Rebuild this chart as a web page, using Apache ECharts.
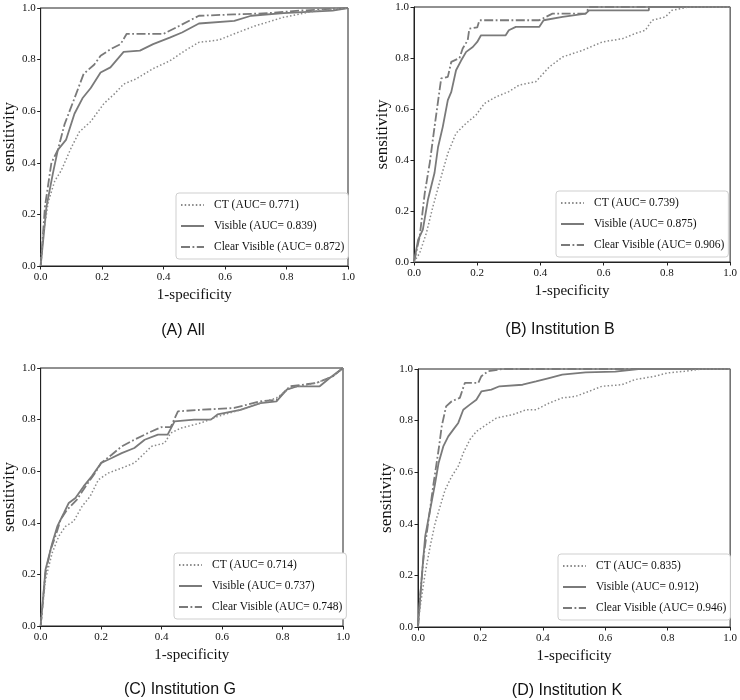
<!DOCTYPE html>
<html><head><meta charset="utf-8">
<script src="https://cdn.jsdelivr.net/npm/echarts@6/dist/echarts.min.js"></script>
<style>html,body{margin:0;padding:0;background:#fff}#c{width:740px;height:700px}</style>
</head><body><div id="c"></div>
<script>
// ---- data ----
const panelCaptions = ['(A) All', '(B) Institution B', '(C) Institution G', '(D) Institution K'];
const seriesLabels = ['CT', 'Visible', 'Clear Visible'];
const aucA = ['0.771', '0.839', '0.872'];
const aucB = ['0.739', '0.875', '0.906'];
const aucC = ['0.714', '0.737', '0.748'];
const aucD = ['0.835', '0.912', '0.946'];
const xAxisTitle = '1-specificity';
const yAxisTitle = 'sensitivity';

const A_CT = [[0,0],[0.009,0.125],[0.025,0.25],[0.046,0.33],[0.067,0.37],[0.1,0.46],[0.126,0.52],[0.163,0.56],[0.206,0.63],[0.24,0.667],[0.27,0.705],[0.31,0.725],[0.366,0.765],[0.42,0.795],[0.47,0.835],[0.515,0.867],[0.58,0.876],[0.63,0.9],[0.696,0.93],[0.79,0.964],[0.845,0.977],[0.9,0.99],[1,1]];
const A_VIS = [[0,0],[0.019,0.23],[0.04,0.36],[0.056,0.45],[0.083,0.49],[0.11,0.59],[0.136,0.65],[0.163,0.69],[0.195,0.75],[0.227,0.77],[0.27,0.83],[0.323,0.835],[0.366,0.86],[0.42,0.885],[0.46,0.905],[0.515,0.94],[0.63,0.95],[0.685,0.97],[0.79,0.98],[0.9,0.987],[0.95,0.99],[1,1]];
const A_CLEAR = [[0,0],[0.014,0.23],[0.035,0.40],[0.056,0.45],[0.078,0.55],[0.11,0.65],[0.14,0.745],[0.174,0.78],[0.195,0.815],[0.227,0.84],[0.26,0.86],[0.28,0.90],[0.40,0.90],[0.45,0.93],[0.515,0.97],[0.63,0.975],[0.74,0.98],[0.845,0.99],[1,1]];

const B_CT = [[0,0],[0.018,0.035],[0.039,0.113],[0.06,0.218],[0.086,0.335],[0.107,0.426],[0.133,0.505],[0.165,0.544],[0.196,0.576],[0.223,0.622],[0.26,0.648],[0.30,0.668],[0.333,0.694],[0.385,0.707],[0.428,0.765],[0.47,0.804],[0.533,0.83],[0.596,0.863],[0.66,0.876],[0.70,0.896],[0.732,0.909],[0.753,0.948],[0.795,0.961],[0.816,0.987],[0.869,1],[1,1]];
const B_VIS = [[0,0],[0.013,0.087],[0.028,0.127],[0.044,0.244],[0.065,0.35],[0.076,0.45],[0.091,0.53],[0.107,0.635],[0.118,0.667],[0.133,0.752],[0.149,0.79],[0.165,0.824],[0.186,0.843],[0.2,0.863],[0.212,0.889],[0.29,0.889],[0.30,0.909],[0.322,0.922],[0.396,0.922],[0.41,0.948],[0.47,0.961],[0.543,0.974],[0.554,0.987],[0.743,0.987],[0.743,1],[1,1]];
const B_CLEAR = [[0,0],[0.018,0.1],[0.034,0.27],[0.05,0.39],[0.065,0.53],[0.086,0.72],[0.107,0.726],[0.118,0.785],[0.144,0.80],[0.154,0.837],[0.17,0.87],[0.175,0.915],[0.2,0.92],[0.207,0.948],[0.396,0.948],[0.438,0.974],[0.543,0.974],[0.554,1],[1,1]];

const C_CT = [[0,0],[0.016,0.18],[0.038,0.283],[0.06,0.348],[0.082,0.386],[0.109,0.406],[0.137,0.464],[0.164,0.503],[0.191,0.567],[0.224,0.593],[0.268,0.612],[0.31,0.632],[0.344,0.67],[0.366,0.696],[0.41,0.709],[0.43,0.748],[0.464,0.767],[0.53,0.787],[0.585,0.812],[0.661,0.838],[0.727,0.864],[0.78,0.884],[0.825,0.922],[0.912,0.942],[0.967,0.968],[1,1]];
const C_VIS = [[0,0],[0.016,0.218],[0.038,0.32],[0.055,0.386],[0.077,0.438],[0.093,0.477],[0.115,0.496],[0.142,0.541],[0.169,0.58],[0.2,0.632],[0.235,0.651],[0.268,0.67],[0.31,0.69],[0.344,0.722],[0.388,0.742],[0.42,0.742],[0.443,0.793],[0.508,0.80],[0.563,0.80],[0.585,0.82],[0.661,0.838],[0.727,0.864],[0.78,0.871],[0.814,0.916],[0.847,0.929],[0.923,0.929],[0.956,0.961],[1,1]];
const C_CLEAR = [[0,0],[0.016,0.205],[0.033,0.296],[0.049,0.348],[0.066,0.412],[0.087,0.45],[0.12,0.49],[0.148,0.54],[0.18,0.593],[0.2,0.632],[0.235,0.664],[0.268,0.696],[0.31,0.722],[0.355,0.748],[0.40,0.771],[0.43,0.771],[0.454,0.832],[0.53,0.838],[0.64,0.845],[0.727,0.871],[0.78,0.877],[0.825,0.929],[0.912,0.942],[0.967,0.968],[1,1]];

const D_CT = [[0,0],[0.007,0.08],[0.023,0.209],[0.039,0.313],[0.055,0.403],[0.071,0.468],[0.087,0.532],[0.108,0.584],[0.129,0.623],[0.145,0.674],[0.166,0.726],[0.187,0.758],[0.219,0.784],[0.251,0.81],[0.304,0.823],[0.346,0.842],[0.378,0.842],[0.42,0.868],[0.462,0.888],[0.505,0.894],[0.547,0.913],[0.589,0.933],[0.653,0.939],[0.695,0.959],[0.759,0.972],[0.80,0.985],[0.854,0.991],[0.907,1],[1,1]];
const D_VIS = [[0,0],[0.013,0.209],[0.023,0.351],[0.039,0.455],[0.055,0.558],[0.066,0.636],[0.081,0.70],[0.097,0.739],[0.113,0.765],[0.129,0.791],[0.145,0.842],[0.166,0.862],[0.187,0.881],[0.203,0.913],[0.235,0.92],[0.261,0.933],[0.335,0.939],[0.378,0.952],[0.42,0.965],[0.462,0.978],[0.537,0.987],[0.632,0.99],[0.706,1],[1,1]];
const D_CLEAR = [[0,0],[0.007,0.119],[0.018,0.274],[0.034,0.416],[0.05,0.558],[0.066,0.687],[0.076,0.778],[0.09,0.855],[0.108,0.875],[0.134,0.888],[0.15,0.946],[0.177,0.946],[0.193,0.946],[0.203,0.972],[0.224,0.991],[0.272,1],[1,1]];

// ---- layout / style ----
const panels = [
  {auc: aucA, data: [A_CT, A_VIS, A_CLEAR], grid: {left: 36, top: 8, width: 312, height: 258}, legend: {left: 176, top: 193}, cap: {cx: 178, top: 318}},
  {auc: aucB, data: [B_CT, B_VIS, B_CLEAR], grid: {left: 414, top: 7, width: 318, height: 255}, legend: {left: 556, top: 191}, cap: {cx: 555, top: 317}},
  {auc: aucC, data: [C_CT, C_VIS, C_CLEAR], grid: {left: 38, top: 368, width: 305, height: 258}, legend: {left: 174, top: 553}, cap: {cx: 175, top: 677}},
  {auc: aucD, data: [D_CT, D_VIS, D_CLEAR], grid: {left: 418, top: 369, width: 315, height: 258}, legend: {left: 558, top: 554}, cap: {cx: 562, top: 678}}
];
const lineStyles = [
  {color: '#8a8a8a', width: 1.5, type: [1.5, 2.2]},
  {color: '#7a7a7a', width: 1.8, type: 'solid'},
  {color: '#7a7a7a', width: 1.8, type: [9, 2.5, 1.8, 2.5]}
];
const serif = '"Liberation Serif", "Times New Roman", serif';
const sans = '"Liberation Sans", Arial, sans-serif';

const option = {
  backgroundColor: '#fff',
  animation: false,
  grid: [], xAxis: [], yAxis: [], series: [], legend: [], title: []
};
panels.forEach((p, i) => {
  option.grid.push(Object.assign({show: true, borderColor: '#222', borderWidth: 1, backgroundColor: 'transparent'}, p.grid));
  option.xAxis.push({
    type: 'value', gridIndex: i, min: 0, max: 1, interval: 0.2,
    name: xAxisTitle, nameLocation: 'middle', nameGap: 22,
    nameTextStyle: {fontFamily: serif, fontSize: 15, color: '#111'},
    axisLine: {show: true, onZero: false, lineStyle: {color: '#222', width: 1}},
    axisTick: {show: true, inside: false, length: 3.5, lineStyle: {color: '#222'}},
    axisLabel: {fontFamily: serif, fontSize: 11, color: '#111', margin: 6, formatter: v => v.toFixed(1)},
    splitLine: {show: false}
  });
  option.yAxis.push({
    type: 'value', gridIndex: i, min: 0, max: 1, interval: 0.2,
    name: yAxisTitle, nameLocation: 'middle', nameGap: 18,
    nameTextStyle: {fontFamily: serif, fontSize: 17, color: '#111'},
    axisLine: {show: true, onZero: false, lineStyle: {color: '#222', width: 1}},
    axisTick: {show: true, inside: false, length: 3.5, lineStyle: {color: '#222'}},
    axisLabel: {fontFamily: serif, fontSize: 11, color: '#111', margin: 5, formatter: v => v.toFixed(1)},
    splitLine: {show: false}
  });
  const names = seriesLabels.map((s, k) => s + ' (AUC= ' + p.auc[k] + ')');
  names.forEach((nm, k) => {
    option.series.push({
      type: 'line', name: nm, xAxisIndex: i, yAxisIndex: i,
      data: p.data[k], showSymbol: false, symbol: 'none',
      lineStyle: lineStyles[k], itemStyle: {color: lineStyles[k].color},
      z: 3 - k, silent: true
    });
  });
  option.legend.push({
    data: names, orient: 'vertical', left: p.legend.left, top: p.legend.top,
    itemWidth: 23, itemHeight: 14, itemGap: 7, padding: [5, 4, 5, 4],
    borderColor: '#cfcfcf', borderWidth: 1, borderRadius: 3, backgroundColor: '#fff',
    itemStyle: {opacity: 0},
    textStyle: {fontFamily: serif, fontSize: 11.5, color: '#111', padding: [0, 0, 0, 5], lineHeight: 14},
    selectedMode: false
  });
  option.title.push({
    text: panelCaptions[i], left: p.cap.cx, top: p.cap.top, textAlign: 'center',
    textStyle: {fontFamily: sans, fontSize: 16, fontWeight: 'normal', color: '#111'}
  });
});
const chart = echarts.init(document.getElementById('c'), null, {renderer: 'canvas'});
chart.setOption(option);
</script>
</body></html>
